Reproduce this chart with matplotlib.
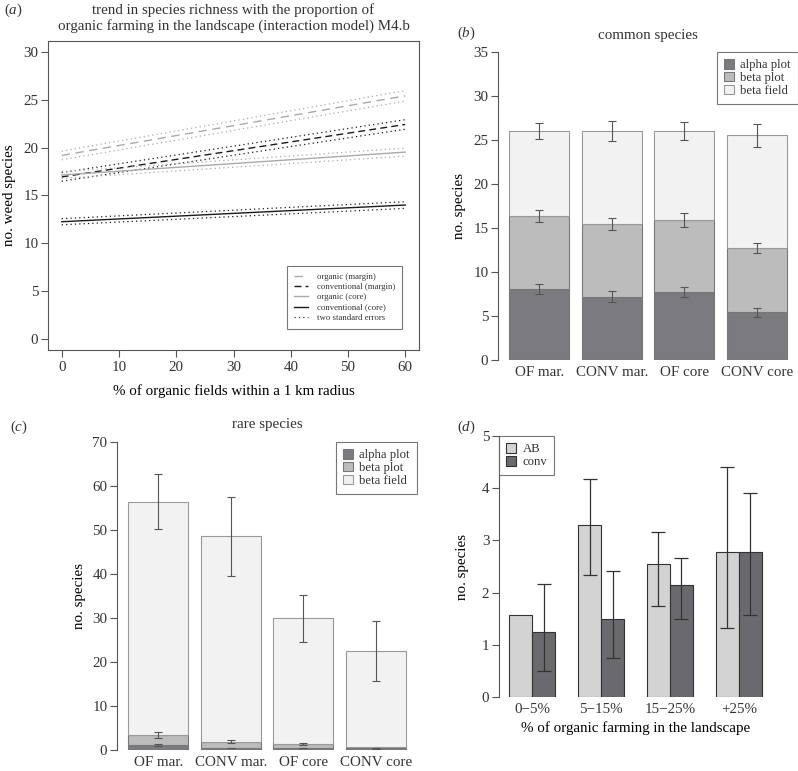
import matplotlib
matplotlib.use("Agg")
import matplotlib.pyplot as plt
import numpy as np

plt.rcParams['font.family'] = ['Liberation Serif', 'DejaVu Serif']
plt.rcParams['mathtext.fontset'] = 'custom'
plt.rcParams['mathtext.rm'] = 'Liberation Serif'
plt.rcParams['mathtext.it'] = 'Liberation Serif:italic'
plt.rcParams['text.color'] = '#333333'
plt.rcParams['axes.edgecolor'] = '#555555'
plt.rcParams['xtick.color'] = '#555555'
plt.rcParams['ytick.color'] = '#555555'
plt.rcParams['xtick.labelcolor'] = '#333333'
plt.rcParams['ytick.labelcolor'] = '#333333'

FS = 10.8

# ---- data (a): fitted trends at 0% and 60% organic fields
pct = [0, 60]
org_margin = [19.2, 25.45]
org_margin_se = [0.45, 0.55]
conv_margin = [16.95, 22.45]
conv_margin_se = [0.45, 0.5]
org_core = [17.15, 19.55]
org_core_se = [0.35, 0.42]
conv_core = [12.25, 14.0]
conv_core_se = [0.32, 0.35]

# ---- data (b): common species, stacked segments
groups = ["OF mar.", "CONV mar.", "OF core", "CONV core"]
com_alpha = [8.1, 7.2, 7.75, 5.4]
com_beta_plot = [8.25, 8.25, 8.15, 7.3]
com_beta_field = [9.65, 10.55, 10.1, 12.8]
com_alpha_err = [0.57, 0.64, 0.57, 0.5]
com_beta_plot_err = [0.66, 0.66, 0.77, 0.59]
com_beta_field_err = [0.96, 1.15, 1.0, 1.3]

# ---- data (c): rare species, stacked segments
rare_alpha = [1.1, 0.45, 0.45, 0.35]
rare_beta_plot = [2.3, 1.45, 0.95, 0.25]
rare_beta_field = [53.0, 46.6, 28.5, 21.9]
rare_alpha_err = [0.2, 0.1, 0.1, 0.15]
rare_beta_plot_err = [0.6, 0.4, 0.25, 0.0]
rare_beta_field_err = [6.3, 9.0, 5.3, 6.9]

# ---- data (d)
classes = ["0\u22125%", "5\u221215%", "15\u221225%", "+25%"]
ab_mean = [1.58, 3.3, 2.54, 2.77]
ab_lo = [1.58, 2.34, 1.74, 1.33]
ab_hi = [1.58, 4.17, 3.17, 4.41]
conv_mean = [1.24, 1.5, 2.15, 2.77]
conv_lo = [0.5, 0.75, 1.5, 1.58]
conv_hi = [2.16, 2.41, 2.66, 3.91]

W, H = 798, 771
fig = plt.figure(figsize=(W / 100, H / 100), dpi=100)


def ax_px(left, top, right, bottom):
    ax = fig.add_axes([left / W, 1 - bottom / H, (right - left) / W, (bottom - top) / H])
    ax._wpx = right - left
    return ax


def ylab(ax, text, off=32):
    # fixed distance from the axis line, like R's mgp
    ax.set_ylabel(text, fontsize=FS)
    ax.yaxis.set_label_coords(-off / ax._wpx, 0.5)


def r_left_axis(ax, lo, hi):
    for s in ['top', 'right', 'bottom']:
        ax.spines[s].set_visible(False)
    ax.spines['left'].set_bounds(lo, hi)
    ax.spines['left'].set_linewidth(0.8)
    ax.tick_params(axis='y', length=5, width=0.8, labelsize=FS, pad=2)
    ax.tick_params(axis='x', length=0, labelsize=FS, pad=4)


def errs(ax, xs, ys, lo, hi, cap, color, lw):
    # R's arrows() draws nothing for zero-length bars
    xs = np.asarray(xs); ys = np.asarray(ys); lo = np.asarray(lo); hi = np.asarray(hi)
    keep = (lo + hi) > 0
    ax.errorbar(xs[keep], ys[keep], yerr=[lo[keep], hi[keep]], fmt='none', ecolor=color,
                elinewidth=lw, capsize=cap, capthick=lw)


# ================= (a)
ax = ax_px(48, 41, 419, 350)
light = '#aaaaaa'
dark = '#1a1a1a'
series = [
    (org_margin, org_margin_se, light, (0, (6, 4)), 'organic (margin)'),
    (conv_margin, conv_margin_se, dark, (0, (5, 3)), 'conventional (margin)'),
    (org_core, org_core_se, light, '-', 'organic (core)'),
    (conv_core, conv_core_se, dark, '-', 'conventional (core)'),
]
x = np.array(pct)
for y, se, c, ls, lab in series:
    y = np.array(y)
    se = np.array(se)
    ax.plot(x, y, color=c, ls=ls, lw=1.0, label=lab)
    ax.plot(x, y + se, color=c, ls=(0, (1, 2.5)), lw=0.9)
    ax.plot(x, y - se, color=c, ls=(0, (1, 2.5)), lw=0.9)
ax.plot([], [], color='#333333', ls=(0, (1, 2.5)), lw=0.9, label='two standard errors')
ax.set_xlim(-2.4, 62.4)
ax.set_ylim(-1.2, 31.2)
ax.set_xticks(range(0, 61, 10))
ax.set_yticks(range(0, 31, 5))
ax.tick_params(length=5, width=0.8, labelsize=FS, pad=2)
ax.tick_params(axis='x', pad=3)
for s in ax.spines.values():
    s.set_linewidth(0.8)
ylab(ax, "no. weed species", 32)
ax.set_xlabel("% of organic fields within a 1 km radius", fontsize=FS, labelpad=7)
ax.set_title("trend in species richness with the proportion of\n"
             "organic farming in the landscape (interaction model) M4.b",
             fontsize=FS, pad=8, linespacing=1.2)
leg = ax.legend(loc='lower right', bbox_to_anchor=(0.954, 0.068), borderaxespad=0,
                fontsize=6.3, frameon=True, fancybox=False, handlelength=1.6, borderpad=0.8,
                labelspacing=0.25, handletextpad=1.0)
leg.get_frame().set_edgecolor('#555555')
leg.get_frame().set_linewidth(0.8)
fig.text(4 / W, 1 - 2 / H, r'$\mathrm{(}a\mathrm{)}$', fontsize=FS, va='top', ha='left')

# ================= stacked bars helper
c_alpha = '#7b7b7f'
c_bplot = '#bcbcbc'
c_bfield = '#f2f2f2'
edge = '#777777'
centers = np.array([0.7, 1.9, 3.1, 4.3])


def stacked(ax, a, bp, bf, ea, ebp, ebf, cap):
    a = np.array(a); bp = np.array(bp); bf = np.array(bf)
    ax.bar(centers, a, 1.0, color=c_alpha, edgecolor=edge, lw=0.8, label='alpha plot')
    ax.bar(centers, bp, 1.0, bottom=a, color=c_bplot, edgecolor=edge, lw=0.8, label='beta plot')
    ax.bar(centers, bf, 1.0, bottom=a + bp, color=c_bfield, edgecolor='#999999', lw=0.8,
           label='beta field')
    for top, err in [(a, ea), (a + bp, ebp), (a + bp + bf, ebf)]:
        errs(ax, centers, top, err, err, cap, '#555555', 0.8)
    ax.set_xlim(0.016, 4.984)
    ax.set_xticks(centers)
    ax.set_xticklabels(groups)


def bar_legend(ax, loc='upper right', anchor=(1.0, 1.0)):
    leg = ax.legend(loc=loc, bbox_to_anchor=anchor, borderaxespad=0,
                    fontsize=9.2, frameon=True, fancybox=False, handlelength=0.8,
                    handleheight=0.8, handletextpad=0.5, labelspacing=0.05, borderpad=0.55)
    leg.get_frame().set_edgecolor('#555555')
    leg.get_frame().set_linewidth(0.8)


# ================= (b)
ax = ax_px(498, 51.7, 798, 360)
stacked(ax, com_alpha, com_beta_plot, com_beta_field,
        com_alpha_err, com_beta_plot_err, com_beta_field_err, 3)
ax.set_ylim(0, 35)
ax.set_yticks(range(0, 36, 5))
r_left_axis(ax, 0, 35)
ylab(ax, "no. species", 32)
ax.set_title("common species", fontsize=FS, pad=9)
bar_legend(ax)
fig.text(457 / W, 1 - 33 / H, r'$\mathrm{(}b\mathrm{)}$', fontsize=FS, va='center', ha='left')

# ================= (c)
ax = ax_px(117, 441.7, 417, 750)
stacked(ax, rare_alpha, rare_beta_plot, rare_beta_field,
        rare_alpha_err, rare_beta_plot_err, rare_beta_field_err, 3)
ax.set_ylim(0, 70)
ax.set_yticks(range(0, 71, 10))
r_left_axis(ax, 0, 70)
ylab(ax, "no. species", 31)
ax.set_title("rare species", fontsize=FS, pad=10)
bar_legend(ax)
fig.text(10 / W, 1 - 427 / H, r'$\mathrm{(}c\mathrm{)}$', fontsize=FS, va='center', ha='left')

# ================= (d)
ax = ax_px(499, 436, 772, 697)
pos_ab = np.array([1.5, 4.5, 7.5, 10.5])
pos_conv = pos_ab + 1
ab_mean = np.array(ab_mean); conv_mean = np.array(conv_mean)
ax.bar(pos_ab, ab_mean, 1.0, color='#d3d3d3', edgecolor='#333333', lw=0.8, label='AB')
ax.bar(pos_conv, conv_mean, 1.0, color='#6a6a6e', edgecolor='#333333', lw=0.8, label='conv')
errs(ax, pos_ab, ab_mean, ab_mean - np.array(ab_lo), np.array(ab_hi) - ab_mean, 5, '#333333', 0.9)
errs(ax, pos_conv, conv_mean, conv_mean - np.array(conv_lo), np.array(conv_hi) - conv_mean, 5,
     '#333333', 0.9)
ax.set_xlim(0.56, 12.44)
ax.set_ylim(0, 5)
ax.set_yticks(range(0, 6))
ax.set_xticks((pos_ab + pos_conv) / 2)
ax.set_xticklabels(classes)
r_left_axis(ax, 0, 5)
ylab(ax, "no. species", 30)
ax.set_xlabel("% of organic farming in the landscape", fontsize=FS, labelpad=4)
bar_legend(ax, 'upper left', (0.0, 1.0))
fig.text(457 / W, 1 - 427 / H, r'$\mathrm{(}d\mathrm{)}$', fontsize=FS, va='center', ha='left')

fig.savefig("out.png", dpi=100)
